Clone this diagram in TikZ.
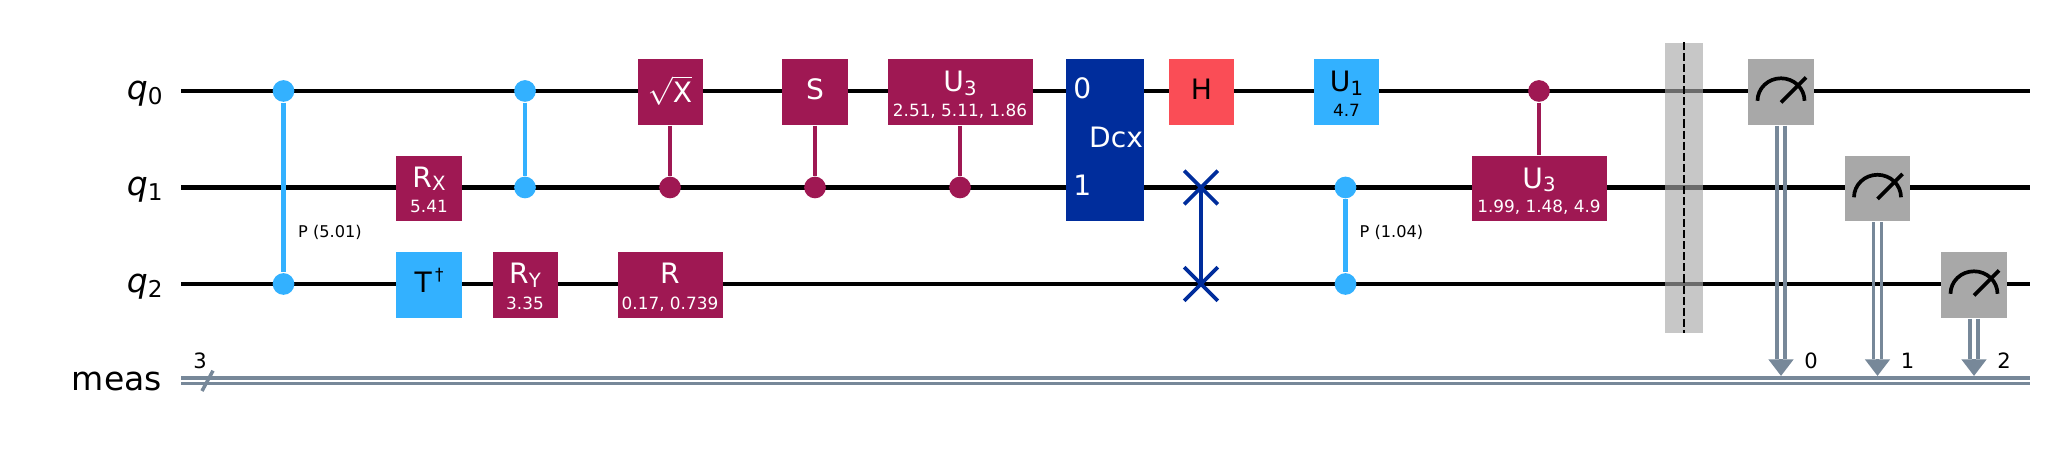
\documentclass[tikz,border=0pt]{standalone}
\usepackage{amsmath}
\usepackage{fontspec}
\setmainfont{DejaVu Sans}
\usetikzlibrary{arrows.meta, shapes.misc}
\definecolor{gatepurple}{HTML}{9F1853}
\definecolor{gatecyan}{HTML}{33B1FF}
\definecolor{gatenavy}{HTML}{002D9C}
\definecolor{gatered}{HTML}{FA4D56}
\definecolor{gategray}{HTML}{A8A8A8}
\definecolor{clbitgray}{HTML}{778899}
\newcommand{\lowtext}[1]{\raisebox{-0.95pt}{\scalebox{0.7}{#1}}}
\newcommand{\wiresub}[1]{\raisebox{-1.4pt}{\scalebox{0.7}{#1}}}
\tikzset{
  wire/.style={black, line width=1.15pt},
  clbit/.style={clbitgray, line width=1pt},
  gatebox/.style={rectangle, inner sep=0pt, yshift=-0.01cm, minimum width=0.66cm, minimum height=0.657cm},
  ctrl/.style={circle, inner sep=0pt, minimum size=0.217cm, fill=#1},
  link/.style={#1, line width=1.2pt},
  swapmark/.style={cross out, draw=gatenavy, line width=1.05pt, inner sep=0pt, minimum size=0.3cm},
  gatename/.style={anchor=base, inner sep=0pt, font=\fontsize{8}{9}\selectfont},
  gatearg/.style={anchor=base, inner sep=0pt, font=\fontsize{4.8}{5}\selectfont},
  sidelabel/.style={anchor=base west, inner sep=0pt, font=\fontsize{4.6}{5}\selectfont},
  wirename/.style={anchor=base east, inner sep=0pt, font=\fontsize{9.4}{10}\selectfont},
  smalllabel/.style={inner sep=0pt, font=\fontsize{6}{7}\selectfont},
  meter/.style={black, line width=1.05pt}
}
\begin{document}
\begin{tikzpicture}
        \useasboundingbox (0,0) rectangle (20.52,4.54);

        % Wires
        \foreach \i/\y in {0/3.63, 1/2.665, 2/1.70} {
            \coordinate (in\i) at (1.81,\y);
            \coordinate (out\i) at (20.30,\y);
            \draw[wire] (in\i) -- (out\i);
            \node[wirename] (q\i) at (1.633,\y-0.083) {\itshape q\wiresub{\upshape\i}};
        }
        \node[wirename] (meas) at (1.625,0.633) {meas};

        % Classical register
        \coordinate (inA) at (1.81,0.76);
        \coordinate (outA) at (20.30,0.76);
        \coordinate (inB) at (1.81,0.703);
        \coordinate (outB) at (20.30,0.703);
        \draw[clbit] (inA) -- (outA);
        \draw[clbit] (inB) -- (outB);
        \coordinate (slashlow) at (2.02,0.63);
        \coordinate (slashhigh) at (2.13,0.833);
        \draw[clbit] (slashlow) -- (slashhigh);
        \node[smalllabel] (regsize) at (2.00,0.933) {3};

        % P (5.01)
        \node[ctrl=gatecyan] (pa) at (2.835,3.63) {};
        \node[ctrl=gatecyan] (pb) at (2.835,1.70) {};
        \draw[link=gatecyan] (pa) -- (pb);
        \node[sidelabel] (plabel) at (2.975,2.167) {P (5.01)};

        % Rx and Tdg
        \node[gatebox, fill=gatepurple] (rx) at (4.29,2.665) {};
        \node[gatename, white] (rxname) at ([yshift=0.01cm]rx.center) {R\lowtext{X}};
        \node[gatearg, white] (rxarg) at ([yshift=-0.244cm]rx.center) {5.41};
        \node[gatebox, fill=gatecyan] (tdg) at (4.29,1.70) {};
        \node[gatename] (tdgname) at ([yshift=-0.079cm]tdg.center) {T\hspace{0.12em}\raisebox{3.6pt}{\scalebox{0.6}{†}}};

        % CZ and Ry
        \node[ctrl=gatecyan] (cza) at (5.25,3.63) {};
        \node[ctrl=gatecyan] (czb) at (5.25,2.665) {};
        \draw[link=gatecyan] (cza) -- (czb);
        \node[gatebox, fill=gatepurple, minimum width=0.65cm] (ry) at (5.25,1.70) {};
        \node[gatename, white] (ryname) at ([yshift=0.01cm]ry.center) {R\lowtext{Y}};
        \node[gatearg, white] (ryarg) at ([yshift=-0.244cm]ry.center) {3.35};

        % Controlled sqrt X and R
        \node[gatebox, fill=gatepurple, minimum width=0.65cm] (sx) at (6.70,3.63) {};
        \node[gatename, white] (sxname) at ([yshift=-0.105cm]sx.center) {$\sqrt{\text{X}}$};
        \node[ctrl=gatepurple] (sxc) at (6.70,2.665) {};
        \draw[link=gatepurple] (sx) -- (sxc);
        \node[gatebox, fill=gatepurple, minimum width=1.05cm] (rr) at (6.70,1.70) {};
        \node[gatename, white] (rrname) at ([yshift=0.01cm]rr.center) {R};
        \node[gatearg, white] (rrarg) at ([yshift=-0.244cm]rr.center) {0.17, 0.739};

        % Controlled S
        \node[gatebox, fill=gatepurple] (ss) at (8.15,3.63) {};
        \node[gatename, white] (ssname) at ([yshift=-0.075cm]ss.center) {S};
        \node[ctrl=gatepurple] (ssc) at (8.15,2.665) {};
        \draw[link=gatepurple] (ss) -- (ssc);

        % Controlled U3
        \node[gatebox, fill=gatepurple, minimum width=1.45cm] (ua) at (9.60,3.63) {};
        \node[gatename, white] (uaname) at ([yshift=0.0cm]ua.center) {U\lowtext{3}};
        \node[gatearg, white] (uaarg) at ([yshift=-0.244cm]ua.center) {2.51, 5.11, 1.86};
        \node[ctrl=gatepurple] (uac) at (9.60,2.665) {};
        \draw[link=gatepurple] (ua) -- (uac);

        % Dcx
        \node[rectangle, inner sep=0pt, minimum width=0.78cm, minimum height=1.62cm, fill=gatenavy] (dcx) at (11.05,3.14) {};
        \node[gatename, white] (dcxname) at (11.16,3.063) {Dcx};
        \node[gatename, white] (dcxa) at (10.822,3.55) {0};
        \node[gatename, white] (dcxb) at (10.822,2.58) {1};

        % H and swap
        \node[gatebox, fill=gatered, minimum width=0.65cm] (hh) at (12.015,3.63) {};
        \node[gatename] (hhname) at ([yshift=-0.075cm]hh.center) {H};
        \node[swapmark] (swa) at (12.01,2.665) {};
        \node[swapmark] (swb) at (12.01,1.70) {};
        \draw[link=gatenavy] (swa.center) -- (swb.center);

        % U1 and P (1.04)
        \node[gatebox, fill=gatecyan, minimum width=0.65cm] (uo) at (13.465,3.63) {};
        \node[gatename] (uoname) at ([yshift=0.0cm]uo.center) {U\lowtext{1}};
        \node[gatearg] (uoarg) at ([yshift=-0.244cm]uo.center) {4.7};
        \node[ctrl=gatecyan] (pc) at (13.455,2.665) {};
        \node[ctrl=gatecyan] (pd) at (13.455,1.70) {};
        \draw[link=gatecyan] (pc) -- (pd);
        \node[sidelabel] (pclabel) at (13.59,2.167) {P (1.04)};

        % Controlled U3 on q1
        \node[ctrl=gatepurple] (ubc) at (15.39,3.63) {};
        \node[gatebox, fill=gatepurple, minimum width=1.35cm] (ub) at (15.39,2.665) {};
        \node[gatename, white] (ubname) at ([yshift=0.0cm]ub.center) {U\lowtext{3}};
        \node[gatearg, white] (ubarg) at ([yshift=-0.244cm]ub.center) {1.99, 1.48, 4.9};
        \draw[link=gatepurple] (ubc) -- (ub);

        % Barrier
        \node[rectangle, inner sep=0pt, minimum width=0.38cm, minimum height=2.90cm, fill=gategray, fill opacity=0.64] (barrier) at (16.84,2.663) {};
        \draw[black, line width=0.65pt, dash pattern=on 2.3pt off 0.85pt] (barrier.north) -- (barrier.south);

        % Measurements
        \foreach \i/\x/\y in {0/17.81/3.63, 1/18.775/2.665, 2/19.74/1.70} {
            \node[gatebox, fill=gategray, minimum width=0.655cm] (m\i) at (\x,\y) {};
            \draw[meter] ([xshift=0.235cm,yshift=-0.088cm]m\i.center) arc[start angle=0, end angle=180, x radius=0.235, y radius=0.225];
            \draw[meter] ([yshift=-0.105cm]m\i.center) -- ++(45:0.354);
            \coordinate (base\i) at (\x,0.947);
            \coordinate (tip\i) at (\x,0.78);
            \draw[clbit] ([xshift=-0.039cm]m\i.south) -- ([xshift=-0.039cm]base\i);
            \draw[clbit] ([xshift=0.039cm]m\i.south) -- ([xshift=0.039cm]base\i);
            \draw[clbit, -{Triangle[width=0.245cm,length=0.167cm]}] (base\i) -- (tip\i);
            \node[smalllabel] (bit\i) at (\x+0.30,0.933) {\i};
        }
\end{tikzpicture}
\end{document}
